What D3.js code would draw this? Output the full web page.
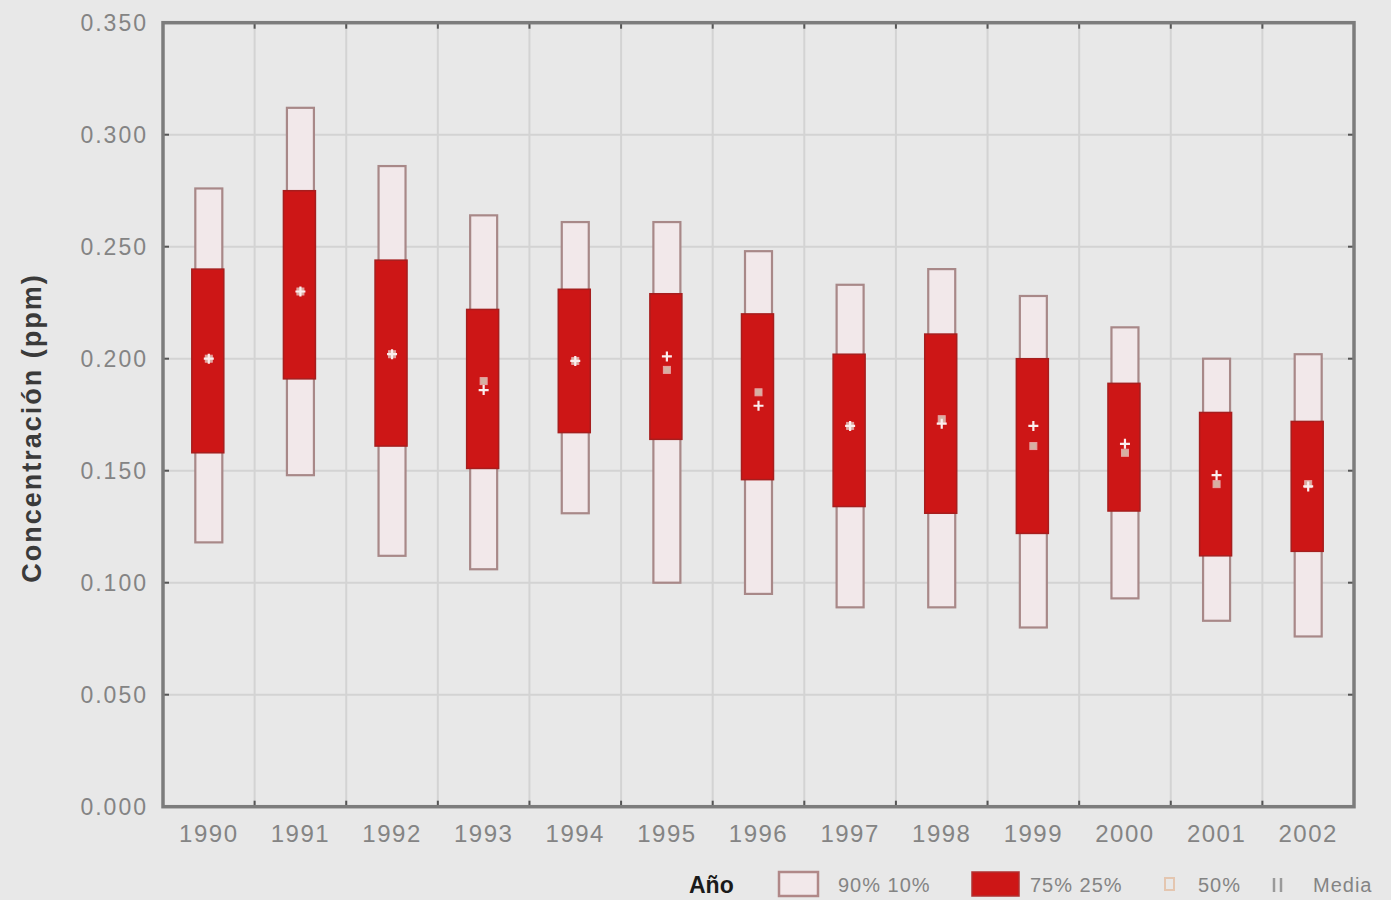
<!DOCTYPE html>
<html>
<head>
<meta charset="utf-8">
<script src="https://cdn.jsdelivr.net/npm/d3@7"></script>
<style>
  html, body { margin: 0; padding: 0; background: #e8e8e8; }
  svg { display: block; }
</style>
</head>
<body>
<svg id="chart" width="1391" height="900"></svg>
<script>
// Annual ozone concentration distribution by year (percentiles, median, mean)
const years  = ["1990","1991","1992","1993","1994","1995","1996","1997","1998","1999","2000","2001","2002"];
const p90    = [0.276,0.312,0.286,0.264,0.261,0.261,0.248,0.233,0.240,0.228,0.214,0.200,0.202];
const p75    = [0.240,0.275,0.244,0.222,0.231,0.229,0.220,0.202,0.211,0.200,0.189,0.176,0.172];
const median = [0.200,0.230,0.202,0.190,0.199,0.195,0.185,0.170,0.173,0.161,0.158,0.144,0.144];
const mean   = [0.200,0.230,0.202,0.186,0.199,0.201,0.179,0.170,0.171,0.170,0.162,0.148,0.143];
const p25    = [0.158,0.191,0.161,0.151,0.167,0.164,0.146,0.134,0.131,0.122,0.132,0.112,0.114];
const p10    = [0.118,0.148,0.112,0.106,0.131,0.100,0.095,0.089,0.089,0.080,0.093,0.083,0.076];
const yTicks = [0, 0.05, 0.10, 0.15, 0.20, 0.25, 0.30, 0.35];

const rows = years.map((y, i) => ({
  year: y, p90: p90[i], p75: p75[i], median: median[i], mean: mean[i], p25: p25[i], p10: p10[i]
}));

const svg = d3.select("#chart");
const plot = { left: 163, right: 1354, top: 22.7, bottom: 806.7 };

const x = d3.scaleBand().domain(years).range([plot.left, plot.right]).padding(0);
const y = d3.scaleLinear().domain([0, 0.35]).range([plot.bottom, plot.top]);

const labelColor = "#848484";
const gridColor = "#d3d3d3";
const frameColor = "#7c7c7c";

// Horizontal grid
svg.append("g")
  .selectAll("line")
  .data(yTicks.slice(1, -1))
  .join("line")
  .attr("x1", plot.left).attr("x2", plot.right)
  .attr("y1", d => y(d)).attr("y2", d => y(d))
  .attr("stroke", gridColor).attr("stroke-width", 2);

// Vertical grid at band boundaries
const bounds = years.slice(1).map(d => x(d));
svg.append("g")
  .selectAll("line")
  .data(bounds)
  .join("line")
  .attr("x1", d => d).attr("x2", d => d)
  .attr("y1", plot.top).attr("y2", plot.bottom)
  .attr("stroke", gridColor).attr("stroke-width", 2);

// Y axis labels
const yAxis = d3.axisLeft(y).tickValues(yTicks).tickFormat(d3.format(".3f")).tickSize(0).tickPadding(15);
const gy = svg.append("g").attr("transform", `translate(${plot.left},0)`).call(yAxis);
gy.select(".domain").remove();
gy.selectAll("text")
  .attr("fill", labelColor)
  .attr("font-family", "Liberation Sans, Arial, sans-serif")
  .attr("font-size", 23)
  .attr("letter-spacing", 2);

// X axis labels
const xAxis = d3.axisBottom(x).tickSize(0).tickPadding(18);
const gx = svg.append("g").attr("transform", `translate(0,${plot.bottom})`).call(xAxis);
gx.select(".domain").remove();
gx.selectAll("text")
  .attr("fill", labelColor)
  .attr("font-family", "Liberation Sans, Arial, sans-serif")
  .attr("font-size", 24)
  .attr("letter-spacing", 1.5);

// Inner tick marks on the frame
const tickG = svg.append("g").attr("stroke", "#555").attr("stroke-width", 2);
yTicks.slice(1, -1).forEach(t => {
  tickG.append("line").attr("x1", plot.left).attr("x2", plot.left + 6).attr("y1", y(t)).attr("y2", y(t));
  tickG.append("line").attr("x1", plot.right - 6).attr("x2", plot.right).attr("y1", y(t)).attr("y2", y(t));
});
bounds.forEach(b => {
  tickG.append("line").attr("x1", b).attr("x2", b).attr("y1", plot.bottom - 6).attr("y2", plot.bottom);
  tickG.append("line").attr("x1", b).attr("x2", b).attr("y1", plot.top).attr("y2", plot.top + 6);
});

// Boxes
const outerW = 27, innerW = 32;
const boxes = svg.append("g").selectAll("g").data(rows).join("g")
  .attr("transform", d => `translate(${x(d.year) + x.bandwidth() / 2},0)`);

// 10%–90% range (hollow)
boxes.append("rect")
  .attr("x", -outerW / 2)
  .attr("width", outerW)
  .attr("y", d => y(d.p90))
  .attr("height", d => y(d.p10) - y(d.p90))
  .attr("fill", "#f2e8ea")
  .attr("stroke", "#a88888")
  .attr("stroke-width", 2.2);

// 25%–75% range (filled)
boxes.append("rect")
  .attr("x", -innerW / 2 - 1)
  .attr("width", innerW)
  .attr("y", d => y(d.p75))
  .attr("height", d => y(d.p25) - y(d.p75))
  .attr("fill", "#cd1616")
  .attr("stroke", "#a61e1e")
  .attr("stroke-width", 1.5);

// Median (small square)
boxes.append("rect")
  .attr("x", -3.5).attr("width", 7)
  .attr("y", d => y(d.median) - 3.5).attr("height", 7)
  .attr("fill", "#d6b0a2")
  .attr("stroke", "#e8a0a0")
  .attr("stroke-width", 1);

// Mean (white plus)
boxes.append("path")
  .attr("d", d => {
    const c = y(d.mean);
    return `M-5,${c}H5M0,${c - 5}V${c + 5}`;
  })
  .attr("stroke", "#fbeeee")
  .attr("stroke-width", 2.2)
  .attr("fill", "none");

// Plot frame
svg.append("rect")
  .attr("x", plot.left).attr("y", plot.top)
  .attr("width", plot.right - plot.left).attr("height", plot.bottom - plot.top)
  .attr("fill", "none").attr("stroke", frameColor).attr("stroke-width", 3.5);

// Y axis title
svg.append("text")
  .attr("transform", `translate(41,428) rotate(-90)`)
  .attr("text-anchor", "middle")
  .attr("font-family", "Liberation Sans, Arial, sans-serif")
  .attr("font-weight", "bold")
  .attr("font-size", 27)
  .attr("letter-spacing", 2)
  .attr("fill", "#3a3a3a")
  .text("Concentración (ppm)");

// Legend
const legend = svg.append("g").attr("font-family", "Liberation Sans, Arial, sans-serif");
legend.append("text").attr("x", 689).attr("y", 893)
  .attr("font-weight", "bold").attr("font-size", 23).attr("fill", "#1a1a1a").text("Año");
legend.append("rect").attr("x", 779).attr("y", 872).attr("width", 39).attr("height", 24)
  .attr("fill", "#f2e8ea").attr("stroke", "#b08888").attr("stroke-width", 2.5);
legend.append("text").attr("x", 838).attr("y", 892)
  .attr("font-size", 20).attr("fill", labelColor).attr("letter-spacing", 1).text("90% 10%");
legend.append("rect").attr("x", 972).attr("y", 872).attr("width", 47).attr("height", 24)
  .attr("fill", "#cd1616").attr("stroke", "#b03030").attr("stroke-width", 1.5);
legend.append("text").attr("x", 1030).attr("y", 892)
  .attr("font-size", 20).attr("fill", labelColor).attr("letter-spacing", 1).text("75% 25%");
legend.append("rect").attr("x", 1165).attr("y", 878).attr("width", 9).attr("height", 12)
  .attr("fill", "none").attr("stroke", "#e4c6b0").attr("stroke-width", 2);
legend.append("text").attr("x", 1198).attr("y", 892)
  .attr("font-size", 20).attr("fill", labelColor).attr("letter-spacing", 1).text("50%");
legend.append("path").attr("d", "M1274,878V892M1281,878V892")
  .attr("stroke", "#9a9a9a").attr("stroke-width", 2.5);
legend.append("text").attr("x", 1313).attr("y", 892)
  .attr("font-size", 20).attr("fill", labelColor).attr("letter-spacing", 1).text("Media");
</script>
</body>
</html>
